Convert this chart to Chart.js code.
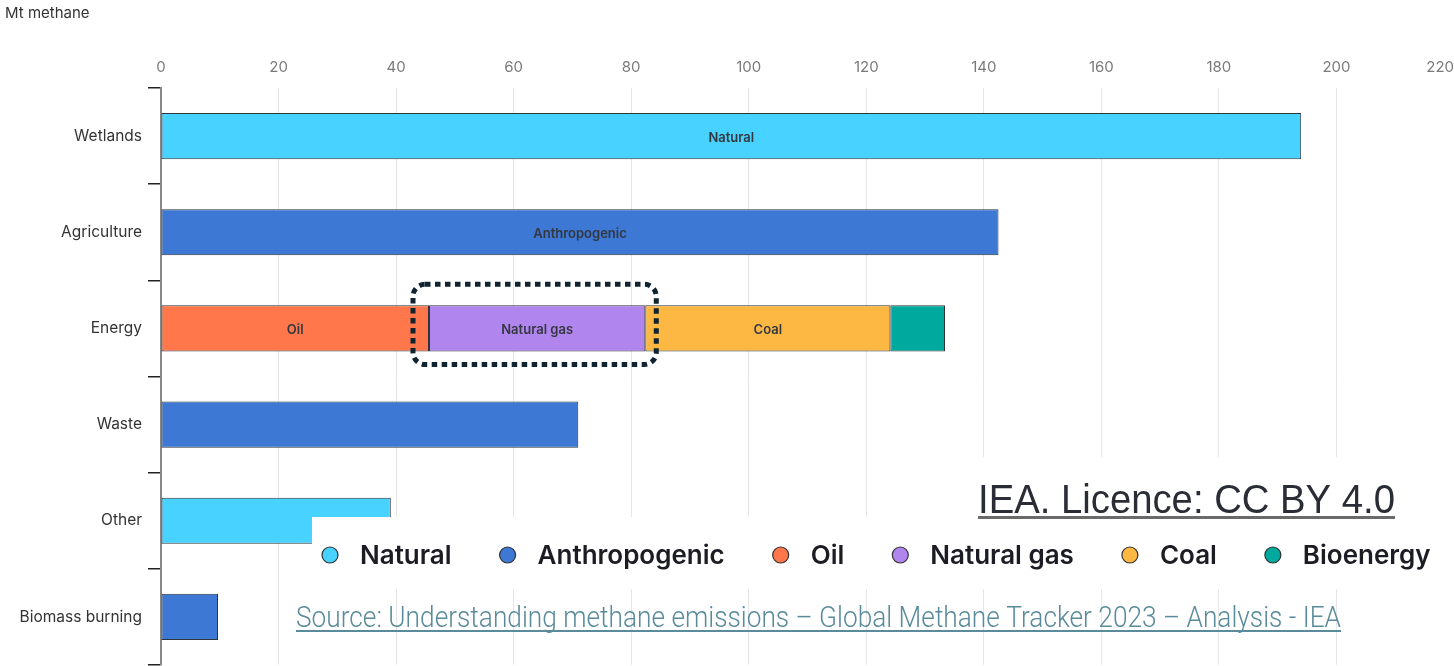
<!DOCTYPE html>
<html>
<head>
<meta charset="utf-8">
<script src="https://cdn.jsdelivr.net/npm/chart.js@4.4.0/dist/chart.umd.min.js"></script>
<style>
  html, body { margin: 0; padding: 0; background: #fff; }
  #graph { display: block; }
</style>
</head>
<body>
<canvas id="graph" width="1454" height="666"></canvas>
<script>
// Data (Mt methane)
const categories = ['Wetlands', 'Agriculture', 'Energy', 'Waste', 'Other', 'Biomass burning'];
const naturalValues       = [194, null, null, null, 39.1, null];
const anthropogenicValues = [null, 142.5, null, 71, null, 9.7];
const oilValues           = [null, null, 45.6, null, null, null];
const naturalGasValues    = [null, null, 36.8, null, null, null];
const coalValues          = [null, null, 41.7, null, null, null];
const bioenergyValues     = [null, null, 9.3, null, null, null];
const xTicksMax = 220;
const xTickStep = 20;

// Which bar segments carry their series name inside them: [category index, series]
const labelledSegments = [[0, 'Natural'], [1, 'Anthropogenic'], [2, 'Oil'], [2, 'Natural gas'], [2, 'Coal']];
const highlightSeries = 'Natural gas';

const axisTitle = 'Mt methane';
const licenceText = 'IEA. Licence: CC BY 4.0';
const sourceText = 'Source: Understanding methane emissions \u2013 Global Methane Tracker 2023 \u2013 Analysis - IEA';

const colors = {
    'Natural': '#48D2FF',
    'Anthropogenic': '#3C78D4',
    'Oil': '#FF774A',
    'Natural gas': '#B185EE',
    'Coal': '#FDB743',
    'Bioenergy': '#00A99D'
};

function makeDataset(label, data) {
    return {
        label: label,
        data: data,
        backgroundColor: colors[label],
        borderColor: '#2f3438',
        borderWidth: 1,
        borderSkipped: false,
        categoryPercentage: 1,
        barPercentage: 0.48
    };
}

const datasets = [
    makeDataset('Natural', naturalValues),
    makeDataset('Anthropogenic', anthropogenicValues),
    makeDataset('Oil', oilValues),
    makeDataset('Natural gas', naturalGasValues),
    makeDataset('Coal', coalValues),
    makeDataset('Bioenergy', bioenergyValues)
];

// Fit a text into a given width by squeezing it horizontally
function fitText(ctx, text, x, y, width) {
    const w = ctx.measureText(text).width;
    ctx.save();
    ctx.translate(x, y);
    ctx.scale(width / w, 1);
    ctx.fillText(text, 0, 0);
    ctx.restore();
}

const overlayPlugin = {
    id: 'overlay',
    afterDatasetsDraw(chart) {
        const ctx = chart.ctx;
        ctx.save();
        // names inside the bars
        ctx.font = '600 13px Inter, "Noto Sans", sans-serif';
        ctx.fillStyle = '#333840';
        ctx.textAlign = 'center';
        ctx.textBaseline = 'middle';
        labelledSegments.forEach(([ci, name]) => {
            const di = chart.data.datasets.findIndex(d => d.label === name);
            const el = chart.getDatasetMeta(di).data[ci];
            ctx.fillText(name, (el.x + el.base) / 2, el.y + 2);
        });

        // dotted rounded box around the natural gas segment
        const gi = chart.data.datasets.findIndex(d => d.label === highlightSeries);
        const g = chart.getDatasetMeta(gi).data[2];
        const left = g.base - 16, right = g.x + 11;
        const top = g.y - g.height / 2 - 21, bottom = g.y + g.height / 2 + 13;
        ctx.beginPath();
        ctx.roundRect(left, top, right - left, bottom - top, 12);
        ctx.setLineDash([5.5, 4.5]);
        ctx.lineWidth = 5;
        ctx.strokeStyle = '#0f2430';
        ctx.stroke();
        ctx.restore();
    },
    afterDraw(chart) {
        const ctx = chart.ctx;
        const xScale = chart.scales.x;
        ctx.save();

        // last x tick label sits inside the canvas
        ctx.font = '15px Inter, "Noto Sans", sans-serif';
        ctx.fillStyle = '#7a7a7a';
        ctx.textAlign = 'right';
        ctx.textBaseline = 'middle';
        ctx.fillText(String(xTicksMax), xScale.getPixelForValue(xTicksMax), 67);

        // axis unit in the corner
        ctx.fillStyle = '#333';
        ctx.textAlign = 'left';
        ctx.fillText(axisTitle, 5, 13);

        // white patches behind the pasted notes
        ctx.fillStyle = '#fff';
        ctx.fillRect(965, 457, 450, 61);
        ctx.fillRect(312, 517, 1142, 72);

        // licence
        ctx.fillStyle = '#2b2d36';
        ctx.textBaseline = 'alphabetic';
        ctx.font = '40px "Liberation Sans", Arial, sans-serif';
        fitText(ctx, licenceText, 978, 513, 417);
        ctx.fillStyle = '#6a6a6a';
        ctx.fillRect(978, 516, 417, 3);

        // legend
        ctx.font = '600 26px Inter, "Noto Sans", sans-serif';
        ctx.textBaseline = 'middle';
        let x = 322;
        const ly = 555;
        chart.data.datasets.forEach(ds => {
            ctx.beginPath();
            ctx.arc(x + 8, ly, 8, 0, Math.PI * 2);
            ctx.fillStyle = ds.backgroundColor;
            ctx.fill();
            ctx.lineWidth = 1.2;
            ctx.strokeStyle = '#333';
            ctx.stroke();
            ctx.fillStyle = '#1c1c24';
            ctx.fillText(ds.label, x + 38, ly + 1);
            x += 38 + ctx.measureText(ds.label).width + 48;
        });

        // source line
        ctx.font = '300 30px Roboto, "Liberation Sans Narrow", sans-serif';
        ctx.fillStyle = '#5a8b9b';
        ctx.textBaseline = 'alphabetic';
        fitText(ctx, sourceText, 296, 627, 1045);
        ctx.fillRect(296, 630, 1045, 2);

        ctx.restore();
    }
};

const ctx = document.getElementById('graph').getContext('2d');
new Chart(ctx, {
    type: 'bar',
    data: {
        labels: categories,
        datasets: datasets
    },
    options: {
        indexAxis: 'y',
        responsive: false,
        animation: false,
        layout: { padding: { left: 0, right: 0, top: 0, bottom: 1 } },
        plugins: {
            legend: { display: false },
            tooltip: { enabled: false }
        },
        scales: {
            x: {
                type: 'linear',
                position: 'top',
                stacked: true,
                min: 0,
                max: xTicksMax,
                ticks: {
                    stepSize: xTickStep,
                    color: '#7a7a7a',
                    font: { family: 'Inter', size: 15 },
                    padding: 12,
                    callback: value => value === xTicksMax ? '' : value
                },
                grid: { color: '#e6e6e6', drawTicks: false },
                border: { display: false },
                afterFit: function(scale) {
                    scale.height = 88;
                    scale.paddingLeft = 0;
                    scale.paddingRight = 0;
                }
            },
            y: {
                stacked: true,
                ticks: {
                    color: '#333',
                    font: { family: 'Inter', size: 15.5 },
                    padding: 6
                },
                grid: {
                    offset: true,
                    drawOnChartArea: false,
                    color: '#222',
                    lineWidth: 1.5,
                    tickLength: 13
                },
                border: { color: '#888', width: 2 },
                afterFit: function(scale) {
                    scale.width = 161;
                    scale.paddingTop = 0;
                    scale.paddingBottom = 0;
                }
            }
        }
    },
    plugins: [overlayPlugin]
});
</script>
</body>
</html>
